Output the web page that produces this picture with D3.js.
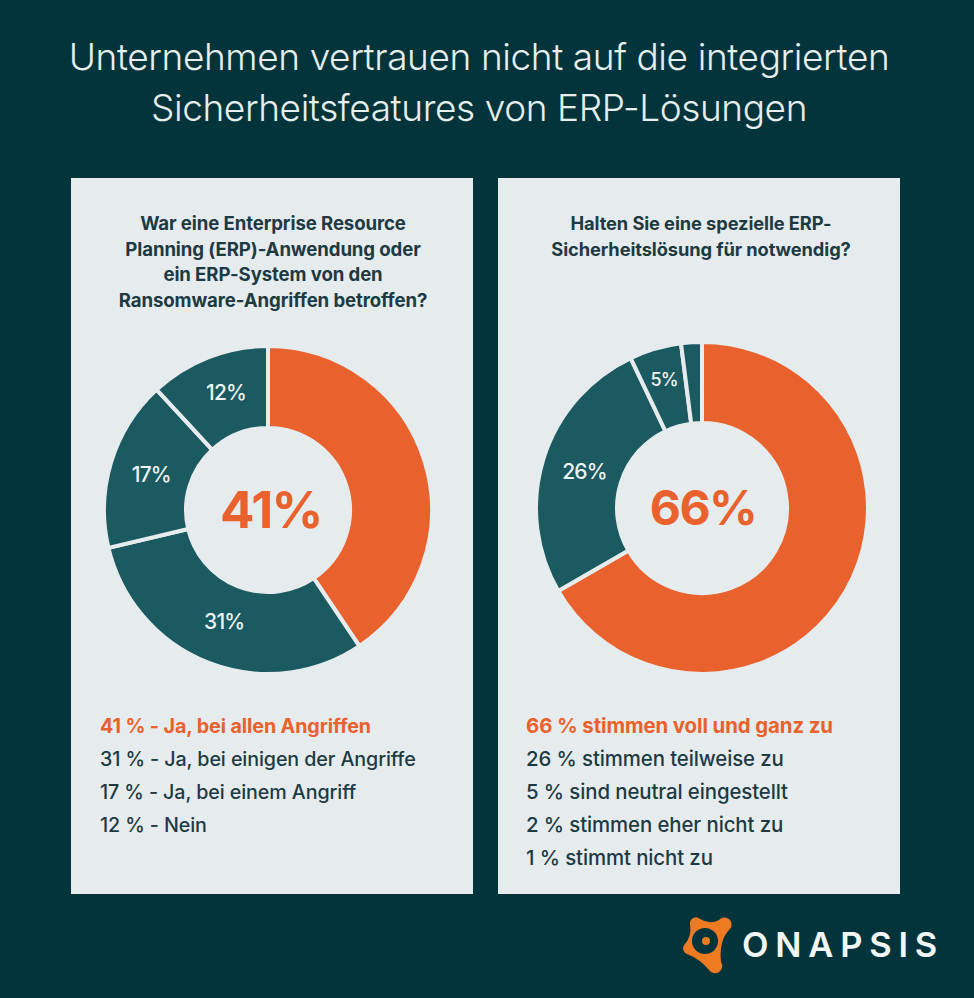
<!DOCTYPE html>
<html><head><meta charset="utf-8">
<script src="https://cdn.jsdelivr.net/npm/d3@7/dist/d3.min.js"></script>
<style>html,body{margin:0;padding:0;background:#04343b}svg{display:block}text{font-family:Inter,"Noto Sans",sans-serif}</style>
</head><body><svg id="c" width="974" height="998"></svg>
<script>
const titleLines = ["Unternehmen vertrauen nicht auf die integrierten","Sicherheitsfeatures von ERP-Lösungen"];
const leftQuestion = ["War eine Enterprise Resource","Planning (ERP)-Anwendung oder","ein ERP-System von den","Ransomware-Angriffen betroffen?"];
const rightQuestion = ["Halten Sie eine spezielle ERP-","Sicherheitslösung für notwendig?"];
const leftValues = [41,31,17,12];
const leftSliceLabels = ["41%","31%","17%","12%"];
const rightValues = [66,26,5,2];
const rightSliceLabels = ["66%","26%","5%",""];
const leftLegend = ["41 % - Ja, bei allen Angriffen","31 % - Ja, bei einigen der Angriffe","17 % - Ja, bei einem Angriff","12 % - Nein"];
const rightLegend = ["66 % stimmen voll und ganz zu","26 % stimmen teilweise zu","5 % sind neutral eingestellt","2 % stimmen eher nicht zu","1 % stimmt nicht zu"];
const BG="#04343b",PANEL="#e6ecee",ORANGE="#e9612c",TEAL="#1b5a60",DARK="#1d3a42";
const svg=d3.select("#c");
svg.append("rect").attr("width",974).attr("height",998).attr("fill",BG);
svg.selectAll("text.t").data(titleLines).join("text").attr("class","t")
  .attr("x",479).attr("y",(d,i)=>70+i*51).attr("text-anchor","middle")
  .attr("fill","#e6eeee").attr("font-size",37).attr("font-weight",300).attr("letter-spacing",-0.4).text(d=>d);

function panel(o){
  const g=svg.append("g");
  g.append("rect").attr("x",o.x).attr("y",178).attr("width",402).attr("height",716).attr("fill",PANEL);
  g.selectAll("text.q").data(o.question).join("text").attr("class","q")
    .attr("x",o.x+o.qdx).attr("y",(d,i)=>o.qy+i*25.5).attr("text-anchor","middle")
    .attr("fill",DARK).attr("font-size",o.qfs).attr("font-weight",700).attr("letter-spacing",-0.1).text(d=>d);
  const pie=d3.pie().sort(null).value(d=>d);
  const arc=d3.arc().innerRadius(o.ri).outerRadius(o.ro);
  const arcs=pie(o.values);
  const dg=g.append("g").attr("transform",`translate(${o.cx},${o.cy})`);
  dg.selectAll("path").data(arcs).join("path").attr("d",arc)
    .attr("fill",(d,i)=>i===0?ORANGE:TEAL).attr("stroke",PANEL).attr("stroke-width",4);
  dg.selectAll("text.s").data(arcs.slice(1)).join("text").attr("class","s")
    .attr("transform",d=>{const r=o.rl[d.index];return `translate(${d3.arc().innerRadius(r).outerRadius(r).centroid(d)})`;})
    .attr("text-anchor","middle").attr("dx",d=>o.ldx[d.index]).attr("dy","0.36em")
    .attr("fill","#eef3f3").attr("font-size",d=>o.fs[d.index])
    .attr("font-weight",500).attr("letter-spacing",-0.8).text(d=>o.labels[d.index]);
  dg.append("text").attr("x",o.bigDx).attr("text-anchor","middle").attr("dy","0.36em").attr("fill",ORANGE)
    .attr("font-size",o.bigFs).attr("font-weight",700).attr("letter-spacing",-1.5).text(o.labels[0]);
  g.selectAll("text.l").data(o.legend).join("text").attr("class","l")
    .attr("x",o.x+o.lx).attr("y",(d,i)=>733+i*33).attr("fill",(d,i)=>i===0?ORANGE:DARK)
    .attr("font-size",o.lfs).attr("font-weight",(d,i)=>i===0?700:500).attr("letter-spacing",-0.1).text(d=>d);
}
panel({x:71,qdx:202,qy:230,qfs:18.6,question:leftQuestion,values:leftValues,labels:leftSliceLabels,legend:leftLegend,cx:268,cy:510,ri:82,ro:164,rl:[0,120,122,126],ldx:[0,0,0,4],fs:[0,21,21,21],lx:29,lfs:19.7,bigFs:51,bigDx:3});
panel({x:498,qdx:203,qy:230,qfs:18.3,question:rightQuestion,values:rightValues,labels:rightSliceLabels,legend:rightLegend,cx:702,cy:508,ri:85,ro:166,rl:[0,123,134,0],ldx:[0,0,0,0],fs:[0,21,18,0],lx:28,lfs:20.4,bigFs:48,bigDx:1});

// logo
const logo=svg.append("g").attr("transform","translate(670,900)");
logo.append("path").attr("fill","#ee7a22")
  .attr("d","M20 24 a6 6 0 0 1 10 -5 Q40 25 49 20 a7 7 0 0 1 11 9 Q53 35 51 48 Q50 55 51 62 a7 7 0 0 1 -12 8 Q30 59 17 54 a6 6 0 0 1 -2 -10 Q22 36 20 24 Z");
logo.append("circle").attr("cx",35).attr("cy",41).attr("r",13).attr("fill",BG);
logo.append("circle").attr("cx",36).attr("cy",41).attr("r",4).attr("fill","#ee7a22");
svg.append("text").attr("x",742).attr("y",957).attr("fill","#f2f6f6").attr("font-size",34.5)
  .attr("font-weight",600).attr("letter-spacing",6.8).text("ONAPSIS");
</script></body></html>
